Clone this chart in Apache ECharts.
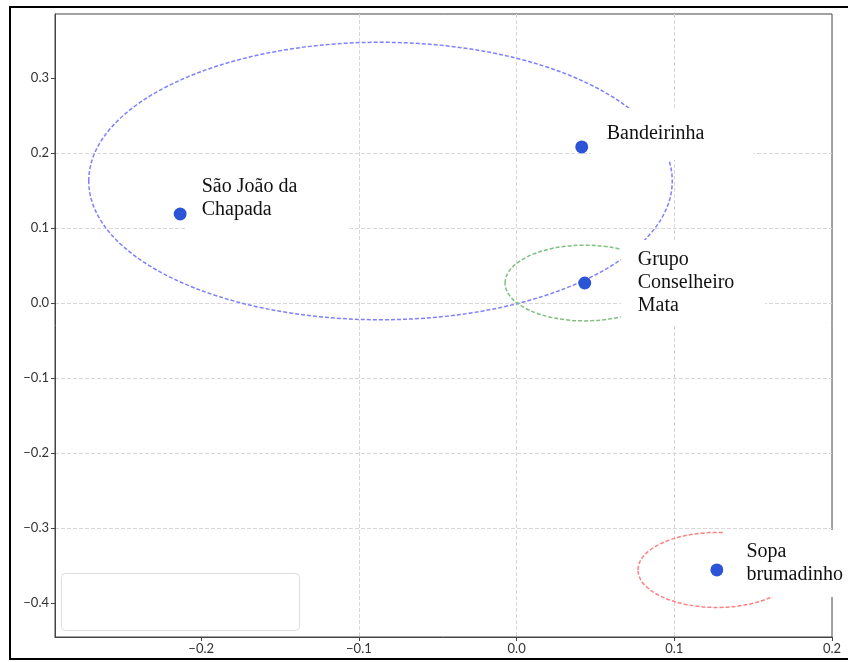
<!DOCTYPE html>
<html>
<head>
<meta charset="utf-8">
<script src="https://cdn.jsdelivr.net/npm/echarts@6/dist/echarts.min.js"></script>
<style>html,body{margin:0;padding:0;background:#fff}#c{width:848px;height:662px}</style>
</head>
<body>
<div id="c"></div>
<script>
// ---- data ----
const pointNames = ['São João da\nChapada', 'Bandeirinha', 'Grupo\nConselheiro\nMata', 'Sopa\nbrumadinho'];
const pointX = [-0.2133, 0.0413, 0.0432, 0.1270];
const pointY = [0.1190, 0.2084, 0.0270, -0.3556];
// ellipses: centre x, centre y, radius (data units)
const ellipseX = [-0.0863, 0.0432, 0.1270];
const ellipseY = [0.1630, 0.0270, -0.3556];
const ellipseR = [0.1850, 0.0505, 0.0500];
const ellipseColors = ['#8080ff', '#80c080', '#ff8080'];
const xTickValues = [-0.2, -0.1, 0.0, 0.1, 0.2];
const xTickLabels = ['\u22120.2', '\u22120.1', '0.0', '0.1', '0.2'];
const yTickValues = [-0.4, -0.3, -0.2, -0.1, 0.0, 0.1, 0.2, 0.3];
const yTickLabels = ['\u22120.4', '\u22120.3', '\u22120.2', '\u22120.1', '0.0', '0.1', '0.2', '0.3'];

// ---- label box styling per point ----
const labelStyles = [
  { offset: [0, -15.5], padding: [10, 52, 11, 15] },
  { offset: [2.5, -13], padding: [12, 49, 17, 16] },
  { offset: [29.5, 0], padding: [6, 31, 11, 17] },
  { offset: [0, -6.5], padding: [10, 10, 11, 23] }
];

function tickFormatter(values, labels) {
  return function (v) {
    for (let i = 0; i < values.length; i++) {
      if (Math.abs(values[i] - v) < 1e-6) return labels[i];
    }
    return '';
  };
}

const scatterData = pointNames.map((n, i) => ({
  name: n,
  value: [pointX[i], pointY[i]],
  label: {
    show: true,
    position: 'right',
    distance: 0,
    offset: labelStyles[i].offset,
    padding: labelStyles[i].padding,
    backgroundColor: '#ffffff',
    formatter: '{b}',
    fontFamily: 'Liberation Serif, Times New Roman, serif',
    fontSize: 20,
    lineHeight: 23,
    color: '#111'
  }
}));

const ellipseData = ellipseX.map((x, i) => [x, ellipseY[i], ellipseR[i], i]);

const chart = echarts.init(document.getElementById('c'), null, { renderer: 'canvas' });
const axisLabelStyle = { fontFamily: 'Lato, Noto Sans, sans-serif', fontSize: 13, color: '#333' };
const gridLine = { show: true, showMinLine: false, showMaxLine: false, lineStyle: { color: '#d8d8d8', type: [4, 2], width: 1 } };
chart.setOption({
  animation: false,
  backgroundColor: '#ffffff',
  grid: { left: 55, right: 16, top: 14, bottom: 25, show: true, borderColor: '#444', borderWidth: 1, backgroundColor: 'transparent' },
  xAxis: {
    type: 'value', min: -0.2927, max: 0.2, splitNumber: 5,
    axisLine: { show: true, onZero: false, lineStyle: { color: '#444' } },
    axisTick: { show: true, length: 4, customValues: xTickValues, lineStyle: { color: '#444' } },
    axisLabel: Object.assign({ margin: 5, customValues: xTickValues, formatter: tickFormatter(xTickValues, xTickLabels) }, axisLabelStyle),
    splitLine: gridLine
  },
  yAxis: {
    type: 'value', min: -0.445, max: 0.3857, splitNumber: 8,
    axisLine: { show: true, onZero: false, lineStyle: { color: '#444' } },
    axisTick: { show: true, length: 4, customValues: yTickValues, lineStyle: { color: '#444' } },
    axisLabel: Object.assign({ margin: 6, customValues: yTickValues, formatter: tickFormatter(yTickValues, yTickLabels) }, axisLabelStyle),
    splitLine: gridLine
  },
  series: [
    {
      type: 'custom',
      z: 2,
      silent: true,
      data: ellipseData,
      encode: { x: 0, y: 1 },
      renderItem: function (params, api) {
        const c = api.coord([api.value(0), api.value(1)]);
        const r = api.value(2);
        const s = api.size([r, r]);
        return {
          type: 'ellipse',
          shape: { cx: c[0], cy: c[1], rx: s[0], ry: s[1] },
          style: { fill: 'none', stroke: ellipseColors[api.value(3)], lineWidth: 1.5, lineDash: [4, 2] }
        };
      }
    },
    {
      type: 'scatter',
      z: 3,
      symbol: 'circle',
      symbolSize: 13,
      itemStyle: { color: '#2b55d6', opacity: 1 },
      data: scatterData
    }
  ],
  graphic: [
    { type: 'rect', z: 100, shape: { x: 61.5, y: 573.5, width: 238, height: 57, r: 4 }, style: { fill: '#ffffff', stroke: '#dddddd', lineWidth: 1 } },
    { type: 'line', z: 100, shape: { x1: 9, y1: 7, x2: 848, y2: 7 }, style: { stroke: '#000', lineWidth: 2 } },
    { type: 'line', z: 100, shape: { x1: 10, y1: 6, x2: 10, y2: 660 }, style: { stroke: '#000', lineWidth: 2 } },
    { type: 'line', z: 100, shape: { x1: 9, y1: 659, x2: 848, y2: 659 }, style: { stroke: '#000', lineWidth: 2 } }
  ]
});
</script>
</body>
</html>
